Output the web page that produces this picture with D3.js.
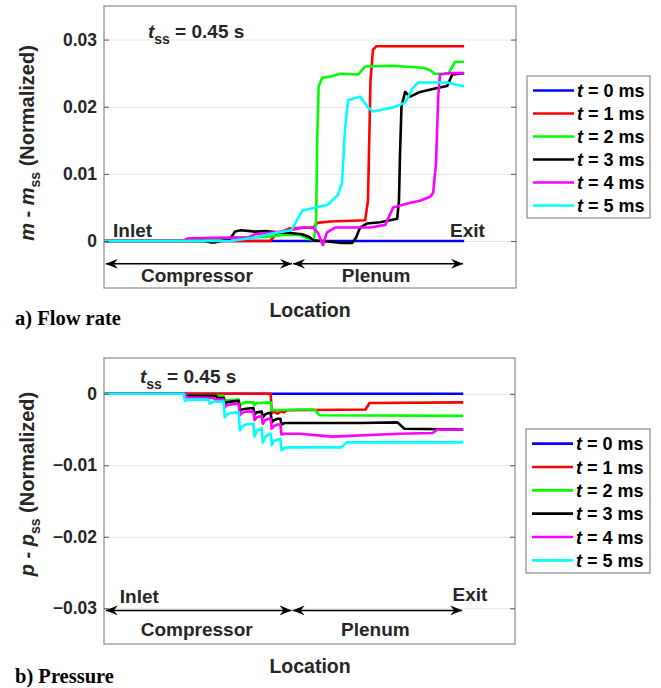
<!DOCTYPE html>
<html>
<head>
<meta charset="utf-8">
<title>Flow rate and pressure along compressor and plenum</title>
<style>
body {
  margin: 0;
  background: #fff;
}
svg {
  display: block;
  font-family: "Liberation Sans", Arial, sans-serif;
}
.tick text {
  font-size: 17.5px;
  font-weight: bold;
  fill: #262626;
}
.grid line {
  stroke: #e6e6e6;
  stroke-width: 1px;
}
.ticks line {
  stroke: #555;
}
</style>
<script src="https://d3js.org/d3.v7.min.js"></script>
</head>
<body>
<div id="result"></div>
<script>
// time labels and colours for the six snapshots
var timesMs = [0, 1, 2, 3, 4, 5]
var colors = ['#0000ff', '#ff0000', '#00ff00', '#000000', '#ff00ff', '#00ffff']

// location runs 0 (inlet) .. 100 (exit)
var regionNames = ['Compressor', 'Plenum']
var regionStart = [0.5, 52.5]
var regionEnd = [52.2, 99.7]

// a) flow rate, m - m_ss, [location, value]
var flowTicks = [0, 0.01, 0.02, 0.03]
var flowT0 = [[0, 0], [100, 0]]
var flowT1 = [[0, 0], [31.7, 0], [46.1, 0], [47.8, 0.001], [51.7, 0.0019], [58.1, 0.002], [59.2, 0.0027], [62.8, 0.0029],
  [72.5, 0.0031], [73.3, 0.006], [74.0, 0.024], [74.7, 0.0285], [75.6, 0.029], [100, 0.029]]
var flowT2 = [[0, 0], [26, 0], [30, 0.0003], [36, 0.0005], [45, 0.0006], [50, 0.0009], [54.4, 0.0009], [57, 0.0003],
  [58.3, 0.0001], [58.9, 0.003], [59.2, 0.015], [59.6, 0.023], [60.6, 0.0243], [63, 0.0245], [65.6, 0.0249],
  [70.6, 0.0248], [72.5, 0.026], [80, 0.0261], [88.6, 0.0258], [90.3, 0.0255], [91.9, 0.0249], [95.6, 0.0249],
  [97.5, 0.0267], [100, 0.0267]]
var flowT3 = [[0, 0], [28, 0], [29.5, -0.0002], [31, -0.0002], [35, 0.0003], [36.4, 0.0014], [38, 0.0016], [42, 0.0014],
  [45, 0.0015], [48, 0.0013], [51.7, 0.0012], [55, 0.001], [57, 0.0006], [58.1, 0.0001], [62.8, -0.0001],
  [66, -0.0003], [68.9, -0.0003], [70, 0.0005], [71.1, 0.002], [73, 0.0026], [76.7, 0.0028], [81.4, 0.0033],
  [81.9, 0.006], [82.2, 0.013], [82.6, 0.02], [83.6, 0.0222], [85, 0.0215], [87.8, 0.0222], [92.5, 0.0228],
  [95.3, 0.0231], [96.7, 0.0248], [100, 0.025]]
var flowT4 = [[0, 0], [22, 0], [23.3, 0.0004], [35, 0.0005], [40, 0.0005], [41.9, 0.001], [47.5, 0.0013], [51.7, 0.0016],
  [55.3, 0.002], [58.1, 0.002], [59.4, 0.0012], [60.8, -0.0006], [61.9, 0.0013], [64.2, 0.002], [73.9, 0.002],
  [78.1, 0.0024], [80.3, 0.005], [85, 0.0057], [87.8, 0.006], [90.6, 0.0066], [91.4, 0.0072], [92.2, 0.0116],
  [92.8, 0.0215], [93.3, 0.0248], [96.1, 0.025], [100, 0.025]]
var flowT5 = [[0, 0], [35, 0], [40.6, 0.0004], [47.5, 0.0012], [52, 0.0016], [53.3, 0.0028], [55, 0.0045], [58.1, 0.0049],
  [62.2, 0.0054], [65, 0.0069], [66.1, 0.0087], [66.9, 0.0166], [67.8, 0.021], [71.1, 0.0215], [73.3, 0.0199],
  [74.7, 0.0193], [80.3, 0.0199], [83.6, 0.0206], [85.8, 0.0228], [87.2, 0.0236], [95.3, 0.0236], [100, 0.023]]

// b) pressure, p - p_ss, [location, value]
var pressTicks = [-0.03, -0.02, -0.01, 0]
var pressT0 = [[0, 0], [100, 0]]
var pressT1 = [[0, 0], [46.4, 0], [46.7, -0.0027], [47.5, -0.0025], [48.3, -0.0028], [49.2, -0.0024], [50, -0.0026],
  [51, -0.0023], [72.8, -0.0022], [73.9, -0.0013], [100, -0.0012]]
var pressT2 = [[0, 0], [22.7, 0], [23, -0.0003], [33.3, -0.0003],
  [33.6, -0.001], [34.2, -0.0009], [37.5, -0.0008],
  [37.8, -0.0017], [38.4, -0.0014], [39.5, -0.0012], [41.6, -0.0012],
  [41.9, -0.0016], [42.5, -0.0013], [46.4, -0.0012],
  [46.7, -0.0023], [54.4, -0.0022], [58.6, -0.0022], [60, -0.003], [100, -0.0031]]
var pressT3 = [[0, 0], [22.7, 0], [23, -0.0003], [31.2, -0.0003], [31.5, -0.0006], [33.3, -0.0006],
  [33.6, -0.0014], [34.2, -0.0012], [35.3, -0.0011], [37.5, -0.001],
  [37.8, -0.0024], [38.4, -0.0022], [39.5, -0.0021], [41.6, -0.002],
  [41.9, -0.0029], [42.5, -0.0026], [43.9, -0.0025],
  [44.2, -0.0033], [44.8, -0.0029], [45.8, -0.0027], [46.4, -0.0027],
  [46.7, -0.004], [47.3, -0.0037], [48.3, -0.0035], [49.1, -0.0035],
  [49.4, -0.0043], [50.2, -0.0041], [71.1, -0.0041], [81.7, -0.004], [83.6, -0.0049], [100, -0.005]]
var pressT4 = [[0, 0], [22.7, 0], [23, -0.0005], [30.5, -0.0006], [30.8, -0.0008], [33.3, -0.0008],
  [33.6, -0.0019], [34.2, -0.0016], [35.3, -0.0015], [37.5, -0.0014],
  [37.8, -0.003], [38.4, -0.0027], [39.5, -0.0025], [41.6, -0.0025],
  [41.9, -0.0037], [42.5, -0.0033], [43.9, -0.0031],
  [44.2, -0.0042], [44.8, -0.0037], [45.8, -0.0035], [46.4, -0.0035],
  [46.7, -0.0049], [47.3, -0.0045], [48.3, -0.0043], [49.1, -0.0043],
  [49.4, -0.0057], [50.2, -0.0056], [54.4, -0.0056], [63.5, -0.006], [82.2, -0.0056], [91.4, -0.0055],
  [92.8, -0.005], [100, -0.005]]
var pressT5 = [[0, 0], [22.2, 0], [22.5, -0.001], [23.2, -0.00088], [24.5, -0.00082], [29.1, -0.0008],
  [29.4, -0.0014], [30, -0.0012], [31, -0.00112], [33.3, -0.0011],
  [33.6, -0.0033], [34.2, -0.0029], [35.3, -0.0027], [37.5, -0.0026],
  [37.8, -0.0051], [38.4, -0.0046], [39.5, -0.0043], [41.6, -0.0042],
  [41.9, -0.006], [42.5, -0.0052], [43.9, -0.0048],
  [44.2, -0.0068], [44.8, -0.0061], [45.8, -0.0057], [46.4, -0.0056],
  [46.7, -0.0072], [47.3, -0.0066], [48.3, -0.0064], [49.1, -0.0063],
  [49.4, -0.0079], [50.2, -0.0076], [51.5, -0.0075], [66.1, -0.0075], [67.5, -0.0068], [100, -0.0068]]

var svg = d3.select('#result').append('svg').attr('width', 661).attr('height', 688)

var defs = svg.append('defs')
defs.append('marker')
  .attr('id', 'head')
  .attr('viewBox', '0 -5 12 10')
  .attr('refX', 12).attr('refY', 0)
  .attr('markerWidth', 12).attr('markerHeight', 10)
  .attr('markerUnits', 'userSpaceOnUse')
  .attr('orient', 'auto-start-reverse')
  .append('path')
  .attr('d', 'M0,-5L12,0L0,5L4,0Z')
  .attr('fill', '#000')

var panels = [
  {
    box: [104, 516, 6, 288], yDomain: [-0.007, 0.035], ticks: flowTicks,
    series: [flowT0, flowT1, flowT2, flowT3, flowT4, flowT5], sym: 'm',
    ylabelY: 143, locY: 317, caption: 'a) Flow rate', captionY: 325,
    legend: [527, 76, 123, 142],
    tss: [12.2, 0.0303], inlet: [2.5, 0.0006], exit: [96.1, 0.0006],
    arrowV: -0.0034, regionV: -0.0061
  },
  {
    box: [104, 515, 358, 644], yDomain: [-0.035, 0.005], ticks: pressTicks,
    series: [pressT0, pressT1, pressT2, pressT3, pressT4, pressT5], sym: 'p',
    ylabelY: 484, locY: 673, caption: 'b) Pressure', captionY: 683,
    legend: [526, 429, 124, 144],
    tss: [10, 0.0015], inlet: [4.4, -0.0292], exit: [97, -0.029],
    arrowV: -0.0303, regionV: -0.0339
  }
]

panels.forEach(function(p) {
  var x = d3.scaleLinear().domain([0, 114.4]).range([p.box[0], p.box[1]])
  var y = d3.scaleLinear().domain(p.yDomain).range([p.box[3], p.box[2]])
  var w = p.box[1] - p.box[0]
  var g = svg.append('g')

  // grid
  g.append('g').attr('class', 'grid')
    .attr('transform', `translate(${p.box[0]},0)`)
    .call(d3.axisLeft(y).tickValues(p.ticks).tickSize(-w).tickFormat(''))
    .call(s => s.select('.domain').remove())

  // series
  var line = d3.line().x(d => x(d[0])).y(d => y(d[1]))
  g.selectAll('path.series').data(p.series).enter().append('path')
    .attr('class', 'series')
    .attr('d', line)
    .attr('fill', 'none')
    .attr('stroke', (d, i) => colors[i])
    .attr('stroke-width', 2.6)
    .attr('stroke-linejoin', 'round')

  // box and ticks
  g.append('rect')
    .attr('x', p.box[0]).attr('y', p.box[2])
    .attr('width', w).attr('height', p.box[3] - p.box[2])
    .attr('fill', 'none').attr('stroke', '#8a8a8a').attr('stroke-width', 1.2)
  g.append('g').attr('class', 'ticks')
    .attr('transform', `translate(${p.box[0]},0)`)
    .call(d3.axisLeft(y).tickValues(p.ticks).tickSize(-5).tickPadding(7).tickFormat(d3.format('.2~f')))
    .call(s => s.select('.domain').remove())
  g.append('g').attr('class', 'ticks')
    .attr('transform', `translate(${p.box[1]},0)`)
    .call(d3.axisRight(y).tickValues(p.ticks).tickSize(-5).tickFormat(''))
    .call(s => s.select('.domain').remove())

  // region arrows
  regionNames.forEach(function(name, i) {
    g.append('line')
      .attr('x1', x(regionStart[i])).attr('x2', x(regionEnd[i]))
      .attr('y1', y(p.arrowV)).attr('y2', y(p.arrowV))
      .attr('stroke', '#000').attr('stroke-width', 1.5)
      .attr('marker-start', 'url(#head)').attr('marker-end', 'url(#head)')
    g.append('text')
      .attr('x', x((regionStart[i] + regionEnd[i]) / 2) - 2)
      .attr('y', y(p.regionV))
      .attr('text-anchor', 'middle')
      .attr('font-size', 19).attr('font-weight', 'bold').attr('fill', '#262626')
      .text(name)
  })

  g.append('text').attr('x', x(p.inlet[0])).attr('y', y(p.inlet[1]))
    .attr('font-size', 19).attr('font-weight', 'bold').attr('fill', '#262626').text('Inlet')
  g.append('text').attr('x', x(p.exit[0])).attr('y', y(p.exit[1]))
    .attr('font-size', 19).attr('font-weight', 'bold').attr('fill', '#262626').text('Exit')

  // t_ss note
  var tss = g.append('text').attr('x', x(p.tss[0])).attr('y', y(p.tss[1]))
    .attr('font-size', 19).attr('font-weight', 'bold').attr('fill', '#262626')
  tss.append('tspan').attr('font-style', 'italic').text('t')
  tss.append('tspan').attr('dy', 6).attr('font-size', 14).text('ss')
  tss.append('tspan').attr('dy', -6).text(' = 0.45 s')

  // y label
  var yl = g.append('text')
    .attr('transform', `translate(34,${p.ylabelY}) rotate(-90)`)
    .attr('text-anchor', 'middle')
    .attr('font-size', 20).attr('font-weight', 'bold').attr('fill', '#262626')
  yl.append('tspan').attr('font-style', 'italic').text(p.sym)
  yl.append('tspan').text(' - ')
  yl.append('tspan').attr('font-style', 'italic').text(p.sym)
  yl.append('tspan').attr('dy', 6).attr('font-size', 14).text('ss')
  yl.append('tspan').attr('dy', -6).text(' (Normalized)')

  // x label
  g.append('text').attr('x', 310).attr('y', p.locY)
    .attr('text-anchor', 'middle')
    .attr('font-size', 19.5).attr('font-weight', 'bold').attr('fill', '#262626')
    .text('Location')

  // caption
  g.append('text').attr('x', 15).attr('y', p.captionY)
    .attr('font-family', '"Liberation Serif", "Times New Roman", serif')
    .attr('font-size', 20.5).attr('font-weight', 'bold')
    .text(p.caption)

  // legend
  var L = p.legend
  var lg = g.append('g')
  lg.append('rect').attr('x', L[0]).attr('y', L[1]).attr('width', L[2]).attr('height', L[3])
    .attr('fill', '#fff').attr('stroke', '#8a8a8a').attr('stroke-width', 1.2)
  var step = (L[3] - 4) / timesMs.length
  timesMs.forEach(function(t, i) {
    var cy = L[1] + 2 + step * (i + 0.5) + 1
    lg.append('line').attr('x1', L[0] + 6).attr('x2', L[0] + 47)
      .attr('y1', cy).attr('y2', cy)
      .attr('stroke', colors[i]).attr('stroke-width', 2.6)
    var tx = lg.append('text').attr('x', L[0] + 50).attr('y', cy + 6.5)
      .attr('font-size', 18).attr('font-weight', 'bold').attr('fill', '#000')
    tx.append('tspan').attr('font-style', 'italic').text('t')
    tx.append('tspan').text(' = ' + t + ' ms')
  })
})
</script>
</body>
</html>
